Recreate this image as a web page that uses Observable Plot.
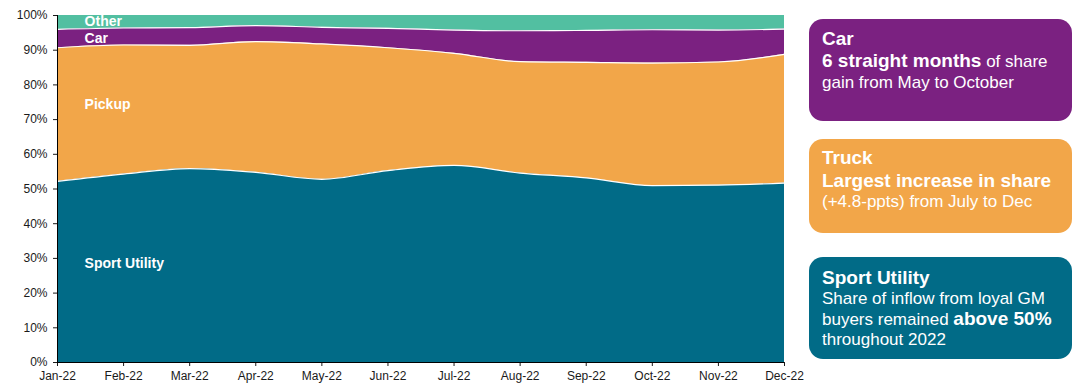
<!DOCTYPE html>
<html><head><meta charset="utf-8">
<script src="https://cdn.jsdelivr.net/npm/d3@7"></script>
<script src="https://cdn.jsdelivr.net/npm/@observablehq/plot@0.6"></script>
<style>
body{margin:0;background:#fff;font-family:"Liberation Sans",Arial,sans-serif;}
#wrap{position:relative;width:1090px;height:387px;overflow:hidden;background:#fff}
#chart{position:absolute;left:0;top:0}
.box{position:absolute;left:809px;width:263px;border-radius:14px;color:#fff;box-sizing:border-box;padding-left:13px;padding-right:4px;white-space:nowrap}
.t{font-size:19px;font-weight:bold;line-height:22px}
.b{font-weight:bold;font-size:19px}
.r{font-size:17px}
.l20{line-height:20px}
</style></head>
<body>
<div id="wrap">
  <div id="chart"></div>
  <div class="box" style="top:19px;height:102px;background:#7b2181;padding-top:9px">
    <div class="t">Car</div>
    <div style="font-size:19px;line-height:22px"><span class="b">6 straight months</span><span class="r"> of share</span></div>
    <div class="r l20">gain from May to October</div>
  </div>
  <div class="box" style="top:139px;height:94px;background:#f2a649;padding-top:8px">
    <div class="t">Truck</div>
    <div class="b" style="line-height:23px">Largest increase in share</div>
    <div class="r l20">(+4.8-ppts) from July to Dec</div>
  </div>
  <div class="box" style="top:257px;height:102px;background:#016b87;padding-top:10px">
    <div class="t">Sport Utility</div>
    <div class="r l20">Share of inflow from loyal GM</div>
    <div class="l20" style="font-size:17px"><span class="r l20">buyers remained </span><span class="b l20">above 50%</span></div>
    <div class="r l20">throughout 2022</div>
  </div>
</div>
<script>
const months = ["Jan-22","Feb-22","Mar-22","Apr-22","May-22","Jun-22","Jul-22","Aug-22","Sep-22","Oct-22","Nov-22","Dec-22"];
const types = ["Sport Utility","Pickup","Car","Other"];
const sportUtility = [52.2, 54.3, 55.9, 54.8, 52.8, 55.3, 56.8, 54.6, 53.2, 51.0, 51.1, 51.7];
const pickup       = [38.5, 37.2, 35.5, 37.7, 39.0, 35.4, 32.3, 32.1, 33.3, 35.3, 35.5, 37.1];
const car          = [5.3, 4.9, 5.1, 4.6, 4.8, 5.6, 6.7, 8.9, 9.2, 9.6, 9.2, 7.3];
const other        = [4.0, 3.6, 3.5, 2.9, 3.4, 3.7, 4.2, 4.4, 4.3, 4.1, 4.2, 3.9];
const colors = ["#016b87","#f2a649","#7b2181","#52bfa1"];
const yTicks = [0,10,20,30,40,50,60,70,80,90,100];
const labelNames = ["Other","Car","Pickup","Sport Utility"];
const labelX = [0.41, 0.41, 0.41, 0.41];
const labelY = [98.3, 93.4, 74.4, 28.5];

const series = [sportUtility, pickup, car, other];
const data = [];
types.forEach((t, k) => series[k].forEach((v, i) => data.push({i, type: t, value: v})));
const labels = labelNames.map((name, k) => ({name, x: labelX[k], y: labelY[k]}));

const chart = Plot.plot({
  width: 812, height: 387,
  marginLeft: 57, marginRight: 28, marginTop: 15, marginBottom: 25,
  style: {fontFamily: "Liberation Sans, Arial, sans-serif", fontSize: "12px", color: "#1a1a1a", background: "transparent"},
  x: {domain: [0, 11], ticks: d3.range(months.length), tickFormat: i => months[i], tickSize: 4, tickPadding: 5, label: null},
  y: {domain: [0, 100], ticks: yTicks, tickFormat: d => d + "%", tickSize: 4, tickPadding: 6, label: null},
  color: {domain: types, range: colors},
  marks: [
    Plot.areaY(data, {x: "i", y: "value", fill: "type", z: "type", order: types, curve: "monotone-x"}),
    Plot.lineY(data, Plot.stackY2({x: "i", y: "value", z: "type", order: types, curve: "monotone-x",
      filter: d => d.type !== "Other", stroke: "white", strokeWidth: 1.2})),
    Plot.ruleY([0], {stroke: "black"}),
    Plot.ruleX([0], {stroke: "black"}),
    Plot.text(labels, {x: "x", y: "y", text: "name", fill: "white", fontWeight: "bold", fontSize: 14, textAnchor: "start"})
  ]
});
document.getElementById("chart").appendChild(chart);
</script>
</body></html>
